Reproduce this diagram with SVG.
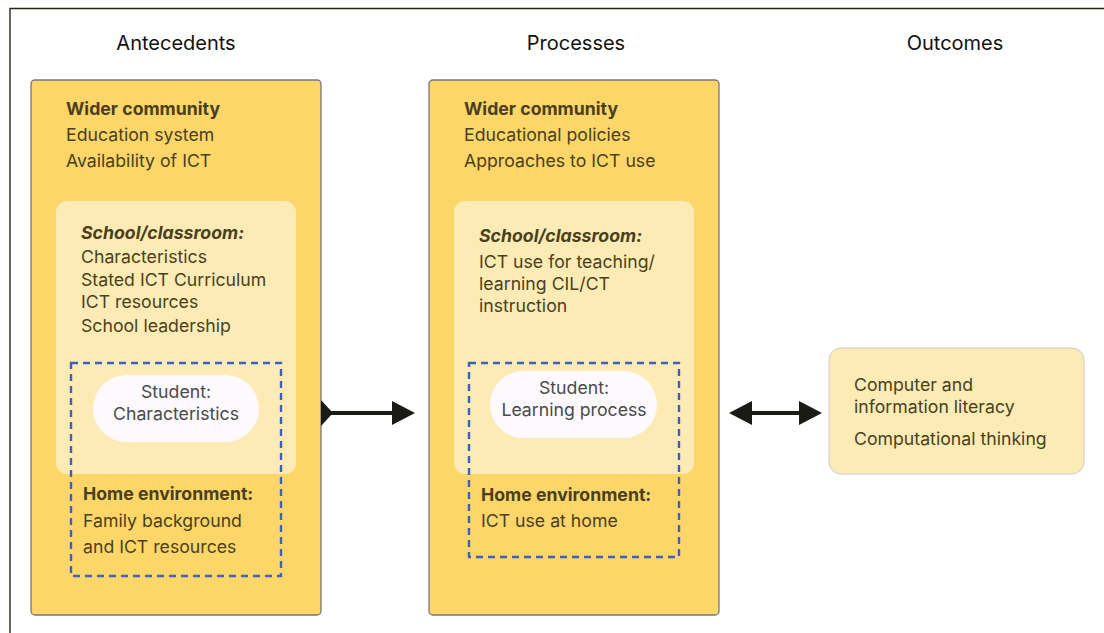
<svg xmlns="http://www.w3.org/2000/svg" width="1104" height="633" viewBox="0 0 1104 633">
<style>
text{font-family:Inter,"Noto Sans","Liberation Sans",sans-serif;}
.hdr{font-size:20px;fill:#111;text-anchor:middle;}
.t{font-size:17.7px;fill:#4a3f1c;}
.b{font-weight:bold;}
.bi{font-weight:bold;font-style:italic;}
.st{font-size:17.7px;fill:#4a4a4a;text-anchor:middle;}
.col{fill:#fdd66a;stroke:#777;stroke-width:1.3;}
.inner{fill:#fdebb5;}
.dash{fill:none;stroke:#3f5fbf;stroke-width:2.4;stroke-dasharray:7,5;}
.pill{fill:#fdf9fc;}
.out{fill:#fdebb5;stroke:#ccc;stroke-width:1;}
.ln{stroke:#1a1a16;stroke-width:4;fill:none;}
.ah{fill:#1a1a16;}
</style>
<rect width="1104" height="633" fill="#fff"/>
<path d="M10,633 V8.5 H1104" fill="none" stroke="#2a2410" stroke-width="1.4"/>
<g id="headers">
<text class="hdr" x="176" y="50">Antecedents</text>
<text class="hdr" x="576" y="50">Processes</text>
<text class="hdr" x="955" y="50">Outcomes</text>
</g>
<g id="antecedents">
<rect class="col" x="31" y="80" width="290" height="535" rx="4"/>
<text class="t b" x="66" y="115">Wider community</text>
<text class="t" x="66" y="141">Education system</text>
<text class="t" x="66" y="167">Availability of ICT</text>
<rect class="inner" x="56" y="201" width="240" height="273" rx="11"/>
<text class="t bi" x="81" y="239">School/classroom:</text>
<text class="t" x="81" y="263">Characteristics</text>
<text class="t" x="81" y="286">Stated ICT Curriculum</text>
<text class="t" x="81" y="308">ICT resources</text>
<text class="t" x="81" y="332">School leadership</text>
<rect class="dash" x="71" y="363" width="210" height="213"/>
<rect class="pill" x="93" y="375" width="166" height="67" rx="33.5"/>
<text class="st" x="176" y="398">Student:</text>
<text class="st" x="176" y="420">Characteristics</text>
<text class="t b" x="83" y="500">Home environment:</text>
<text class="t" x="83" y="527">Family background</text>
<text class="t" x="83" y="553">and ICT resources</text>
</g>
<g id="processes">
<rect class="col" x="429" y="80" width="290" height="535" rx="4"/>
<text class="t b" x="464" y="115">Wider community</text>
<text class="t" x="464" y="141">Educational policies</text>
<text class="t" x="464" y="167">Approaches to ICT use</text>
<rect class="inner" x="454" y="201" width="240" height="273" rx="11"/>
<text class="t bi" x="479" y="242">School/classroom:</text>
<text class="t" x="479" y="268">ICT use for teaching/</text>
<text class="t" x="479" y="290">learning CIL/CT</text>
<text class="t" x="479" y="312">instruction</text>
<rect class="dash" x="469" y="363" width="210" height="194"/>
<rect class="pill" x="490" y="371" width="167" height="67" rx="33.5"/>
<text class="st" x="574" y="394">Student:</text>
<text class="st" x="574" y="416">Learning process</text>
<text class="t b" x="481" y="501">Home environment:</text>
<text class="t" x="481" y="527">ICT use at home</text>
</g>
<g id="outcomes">
<rect class="out" x="829" y="348" width="255" height="126" rx="12"/>
<text class="t" x="854" y="391">Computer and</text>
<text class="t" x="854" y="413">information literacy</text>
<text class="t" x="854" y="445">Computational thinking</text>
</g>
<g id="connectors">
<line class="ln" x1="328" y1="413" x2="396" y2="413"/>
<polygon class="ah" points="321,400 333,413 321,426"/>
<polygon class="ah" points="392,401 415,413 392,425"/>
<line class="ln" x1="748" y1="413" x2="804" y2="413"/>
<polygon class="ah" points="729,413 752,401 752,425"/>
<polygon class="ah" points="822,413 799,401 799,425"/>
</g>
</svg>
